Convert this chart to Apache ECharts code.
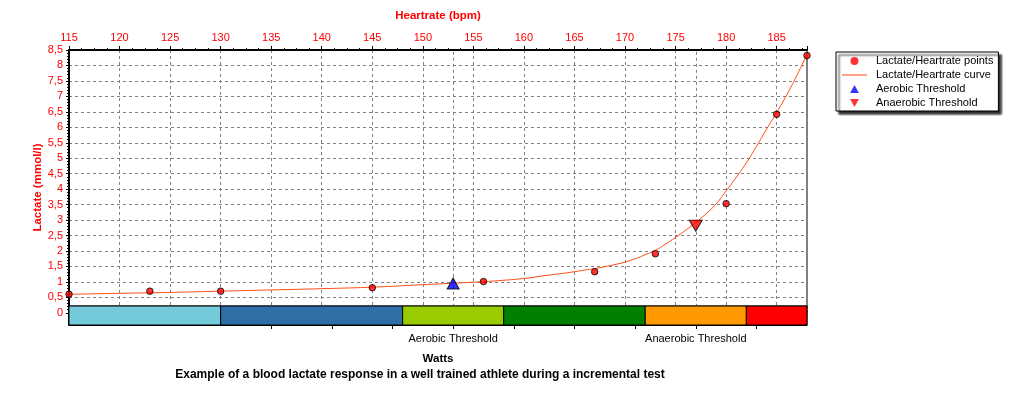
<!DOCTYPE html>
<html>
<head>
<meta charset="utf-8">
<script src="https://cdn.jsdelivr.net/npm/echarts@6/dist/echarts.min.js"></script>
<style>html,body{margin:0;padding:0;background:#fff}#c{width:1032px;height:393px}</style>
</head>
<body>
<div id="c"></div>
<script>
// ---- data ----
const hrMin = 115;
const hrMax = 188;
const pointHR = [115, 123, 130, 145, 156, 167, 173, 180, 185, 188];
const pointLactate = [0.60, 0.70, 0.70, 0.81, 1.01, 1.33, 1.91, 3.53, 6.42, 8.32];
const curveHR = [115, 120, 125, 130, 135, 140, 145, 150, 155, 157.5, 160, 161, 162, 163, 164, 165, 166, 167, 168, 169, 170, 171, 172, 173, 174, 175, 176, 177, 178, 179, 180, 181, 182, 183, 184, 185, 186, 187, 188];
const curveLactate = [0.60, 0.63, 0.66, 0.70, 0.74, 0.78, 0.83, 0.91, 0.99, 1.04, 1.11, 1.15, 1.20, 1.24, 1.28, 1.33, 1.38, 1.43, 1.49, 1.56, 1.64, 1.75, 1.88, 2.02, 2.22, 2.44, 2.67, 2.92, 3.20, 3.52, 3.94, 4.38, 4.85, 5.38, 5.94, 6.48, 7.05, 7.68, 8.36];
const thresholdHR = [153, 177];
const thresholdLactate = [0.95, 2.82];
const thresholdLabels = ['Aerobic Threshold', 'Anaerobic Threshold'];
const wattsTicks = [135, 141, 147, 153, 159, 165, 171, 177, 183];
const zoneStart = [115, 130, 148, 158, 172, 182];
const zoneEnd = [130, 148, 158, 172, 182, 188];
const zoneColors = ['#74c9da', '#2e6fa8', '#99cc00', '#008000', '#ff9900', '#ff0000'];

const FONT = 'Liberation Sans, Arial, sans-serif';
const RED = '#ff0000';
const GRIDC = '#808080';
const CURVE = '#ff4a10';

const chart = echarts.init(document.getElementById('c'), null, {renderer: 'canvas'});
const upTri = 'path://M6,0L12,11L0,11Z';
const downTri = 'path://M0,0L12,0L6,11Z';
const lineIcon = 'path://M0,0H25V1H0Z';

chart.setOption({
  animation: false,
  textStyle: {fontFamily: FONT},
  title: {
    text: 'Example of a blood lactate response in a well trained athlete during a incremental test',
    left: 415, top: 364, textAlign: 'center',
    textStyle: {fontSize: 12, fontWeight: 'bold', color: '#000', fontFamily: FONT}
  },
  legend: {
    orient: 'vertical',
    left: 836, top: 52,
    padding: [2, 5, 1, 6],
    itemGap: 0,
    itemWidth: 25, itemHeight: 8,
    symbolKeepAspect: true,
    backgroundColor: '#fff',
    borderColor: '#000', borderWidth: 1, borderRadius: 0,
    shadowColor: 'rgba(0,0,0,0.85)', shadowBlur: 2, shadowOffsetX: 3, shadowOffsetY: 3,
    textStyle: {fontSize: 11, color: '#000', lineHeight: 14, padding: [0, 0, 0, 4], fontFamily: FONT},
    data: [
      {name: 'Lactate/Heartrate points', icon: 'circle', itemStyle: {borderWidth: 0}},
      {name: 'Lactate/Heartrate curve', icon: lineIcon, itemStyle: {color: CURVE, borderWidth: 0}},
      {name: 'Aerobic Threshold', icon: upTri, itemStyle: {borderWidth: 0}},
      {name: 'Anaerobic Threshold', icon: downTri, itemStyle: {borderWidth: 0}}
    ]
  },
  graphic: [{
    type: 'text', x: 37.5, y: 187.5, rotation: Math.PI / 2,
    style: {text: 'Lactate (mmol/l)', fill: RED, font: 'bold 11.5px ' + FONT, align: 'center', verticalAlign: 'middle'}
  }],
  grid: [
    {left: 69, right: 225, top: 50, height: 262.8, show: true, borderColor: '#000', borderWidth: 1, backgroundColor: 'transparent'},
    {left: 69, right: 225, top: 306, bottom: 68, show: true, borderColor: '#000', borderWidth: 1, backgroundColor: 'transparent'}
  ],
  xAxis: [
    {
      gridIndex: 0, type: 'value', position: 'top', min: hrMin, max: hrMax, interval: 5,
      name: 'Heartrate (bpm)', nameLocation: 'middle', nameGap: 28,
      nameTextStyle: {color: RED, fontWeight: 'bold', fontSize: 11.5, fontFamily: FONT},
      axisLine: {show: true, onZero: false, lineStyle: {color: '#000', width: 2}},
      axisTick: {show: true, length: 4, lineStyle: {color: '#000'}},
      minorTick: {show: true, splitNumber: 4, length: 2, lineStyle: {color: '#000'}},
      axisLabel: {color: RED, fontSize: 11, margin: 7, showMaxLabel: false, fontFamily: FONT},
      splitLine: {show: true, lineStyle: {color: GRIDC, type: [3, 3], width: 1}}
    },
    {
      gridIndex: 1, type: 'value', position: 'bottom', min: hrMin, max: hrMax,
      name: 'Watts', nameLocation: 'middle', nameGap: 28,
      nameTextStyle: {color: '#000', fontWeight: 'bold', fontSize: 11.5, fontFamily: FONT},
      axisLine: {show: true, onZero: false, lineStyle: {color: '#000', width: 1}},
      axisTick: {show: true, length: 4, customValues: wattsTicks, lineStyle: {color: '#000'}},
      axisLabel: {
        color: '#000', fontSize: 11, margin: 8, customValues: thresholdHR, fontFamily: FONT,
        formatter: v => { const i = thresholdHR.indexOf(v); return i >= 0 ? thresholdLabels[i] : ''; }
      },
      splitLine: {show: false}
    }
  ],
  yAxis: [
    {
      gridIndex: 0, type: 'value', min: 0, max: 8.5, interval: 0.5,
      axisLine: {show: true, onZero: false, lineStyle: {color: '#000', width: 2}},
      axisTick: {show: true, length: 3, lineStyle: {color: '#000'}},
      minorTick: {show: true, splitNumber: 5, length: 2, lineStyle: {color: '#000'}},
      axisLabel: {color: RED, fontSize: 11, margin: 6, fontFamily: FONT, formatter: v => String(v).replace('.', ',')},
      splitLine: {show: true, lineStyle: {color: GRIDC, type: [3, 3], width: 1}}
    },
    {
      gridIndex: 1, type: 'value', min: 0, max: 1,
      axisLine: {show: true, onZero: false, lineStyle: {color: '#000', width: 2}},
      axisTick: {show: false}, axisLabel: {show: false}, splitLine: {show: false}
    }
  ],
  series: [
    {
      name: 'Lactate/Heartrate curve', type: 'line', xAxisIndex: 0, yAxisIndex: 0,
      data: curveHR.map((h, i) => [h, curveLactate[i]]),
      smooth: 0.5, symbol: 'none', showSymbol: false,
      lineStyle: {color: CURVE, width: 1}, itemStyle: {color: CURVE},
      z: 3,
      markLine: {
        silent: true, symbol: ['none', 'none'], z: 1,
        label: {show: false},
        lineStyle: {color: GRIDC, type: [3, 3], width: 1},
        data: thresholdHR.map(v => ({xAxis: v}))
      }
    },
    {
      name: 'Lactate/Heartrate points', type: 'scatter', xAxisIndex: 0, yAxisIndex: 0,
      data: pointHR.map((h, i) => [h, pointLactate[i]]),
      symbol: 'circle', symbolSize: 6.5,
      itemStyle: {color: '#ff0000', borderColor: '#000', borderWidth: 1},
      z: 4
    },
    {
      name: 'Aerobic Threshold', type: 'scatter', xAxisIndex: 0, yAxisIndex: 0,
      data: [[thresholdHR[0], thresholdLactate[0]]],
      symbol: upTri, symbolSize: [12, 11],
      itemStyle: {color: '#0000ff', borderColor: '#000', borderWidth: 1},
      z: 5
    },
    {
      name: 'Anaerobic Threshold', type: 'scatter', xAxisIndex: 0, yAxisIndex: 0,
      data: [[thresholdHR[1], thresholdLactate[1]]],
      symbol: downTri, symbolSize: [13, 11],
      itemStyle: {color: '#ff0000', borderColor: '#000', borderWidth: 1},
      z: 5
    },
    {
      name: 'zones', type: 'custom', xAxisIndex: 1, yAxisIndex: 1, z: 10,
      encode: {x: [0, 1]},
      data: zoneStart.map((s, i) => [s, zoneEnd[i]]),
      renderItem: (params, api) => {
        const p0 = api.coord([api.value(0), 1]);
        const p1 = api.coord([api.value(1), 0]);
        return {
          type: 'rect',
          shape: {x: p0[0], y: p0[1], width: p1[0] - p0[0], height: p1[1] - p0[1]},
          style: {fill: zoneColors[params.dataIndex], stroke: '#000', lineWidth: 1}
        };
      }
    }
  ]
});
</script>
</body>
</html>
